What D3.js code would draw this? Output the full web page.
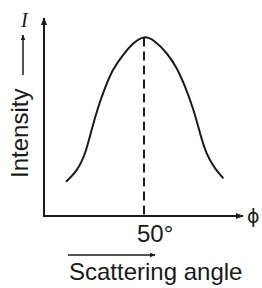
<!DOCTYPE html>
<html>
<head>
<meta charset="utf-8">
<script src="https://cdn.jsdelivr.net/npm/d3@7"></script>
<style>
  html, body { margin: 0; padding: 0; background: #fff; }
  svg { display: block; }
  text { fill: #1a1a1a; }
</style>
</head>
<body>
<svg id="chart" width="262" height="288"></svg>
<script>
// Scattering angle (degrees) vs intensity (arbitrary units)
const angles = [11, 16.3, 20.5, 23.8, 27.2, 30.5, 34.5, 39.5, 44.5, 50, 55.5, 61.3, 66.3, 70.5, 74.7, 78, 81.3, 85.5, 89.7];
const intensities = [17.3, 23.2, 31.8, 43.4, 55.2, 64.6, 73.7, 81.3, 87.0, 90.2, 88.0, 82.2, 74.6, 65.3, 53.5, 41.9, 31.8, 24.2, 19.0];
const peakAngle = 50;
const tickLabels = ['50°'];

const ink = '#1a1a1a';
const svg = d3.select('#chart');

const x = d3.scaleLinear().domain([0, 100]).range([44, 244]);
const y = d3.scaleLinear().domain([0, 100]).range([216, 18]);

// arrowhead marker
const defs = svg.append('defs');
defs.append('marker')
  .attr('id', 'head')
  .attr('viewBox', '0 0 10 10')
  .attr('refX', 9)
  .attr('refY', 5)
  .attr('markerWidth', 4)
  .attr('markerHeight', 4)
  .attr('markerUnits', 'strokeWidth')
  .attr('orient', 'auto')
  .append('path')
  .attr('d', 'M0,1 L10,5 L0,9 Z')
  .attr('fill', ink);

// axes
svg.append('line')
  .attr('x1', x(0)).attr('y1', y(0))
  .attr('x2', x(0)).attr('y2', y(100))
  .attr('stroke', ink).attr('stroke-width', 2)
  .attr('marker-end', 'url(#head)');

svg.append('line')
  .attr('x1', x(0) - 1).attr('y1', y(0))
  .attr('x2', x(99.5)).attr('y2', y(0))
  .attr('stroke', ink).attr('stroke-width', 2)
  .attr('marker-end', 'url(#head)');

// dashed line at the peak
const peakIdx = angles.indexOf(peakAngle);
svg.append('line')
  .attr('x1', x(peakAngle)).attr('y1', y(intensities[peakIdx]))
  .attr('x2', x(peakAngle)).attr('y2', y(0))
  .attr('stroke', ink).attr('stroke-width', 2)
  .attr('stroke-dasharray', '9,5');

// intensity curve
const line = d3.line()
  .x((d, i) => x(angles[i]))
  .y(d => y(d))
  .curve(d3.curveNatural);

svg.append('path')
  .datum(intensities)
  .attr('d', line)
  .attr('fill', 'none')
  .attr('stroke', ink)
  .attr('stroke-width', 2);

// tick label
svg.append('text')
  .attr('x', x(peakAngle) - 7)
  .attr('y', 242)
  .attr('font-family', 'Liberation Sans, Arial, sans-serif')
  .attr('font-size', 24)
  .text(tickLabels[0]);

// x axis symbol
svg.append('text')
  .attr('x', 247)
  .attr('y', 223)
  .attr('font-family', 'DejaVu Sans, sans-serif')
  .attr('font-size', 19)
  .text('ϕ');

// y axis symbol
svg.append('text')
  .attr('x', 21)
  .attr('y', 27)
  .attr('font-family', 'Liberation Serif, Times New Roman, serif')
  .attr('font-style', 'italic')
  .attr('font-size', 20)
  .text('I');

// y label + arrow
svg.append('text')
  .attr('transform', 'translate(28,178) rotate(-90)')
  .attr('font-family', 'Liberation Sans, Arial, sans-serif')
  .attr('font-size', 24)
  .text('Intensity');

svg.append('line')
  .attr('x1', 23).attr('y1', 75)
  .attr('x2', 23).attr('y2', 35)
  .attr('stroke', ink).attr('stroke-width', 1.5)
  .attr('marker-end', 'url(#head)');

// x label + arrow
svg.append('line')
  .attr('x1', 68).attr('y1', 255)
  .attr('x2', 155).attr('y2', 255)
  .attr('stroke', ink).attr('stroke-width', 1.5)
  .attr('marker-end', 'url(#head)');

svg.append('text')
  .attr('x', 69)
  .attr('y', 280)
  .attr('font-family', 'Liberation Sans, Arial, sans-serif')
  .attr('font-size', 24)
  .text('Scattering angle');
</script>
</body>
</html>
